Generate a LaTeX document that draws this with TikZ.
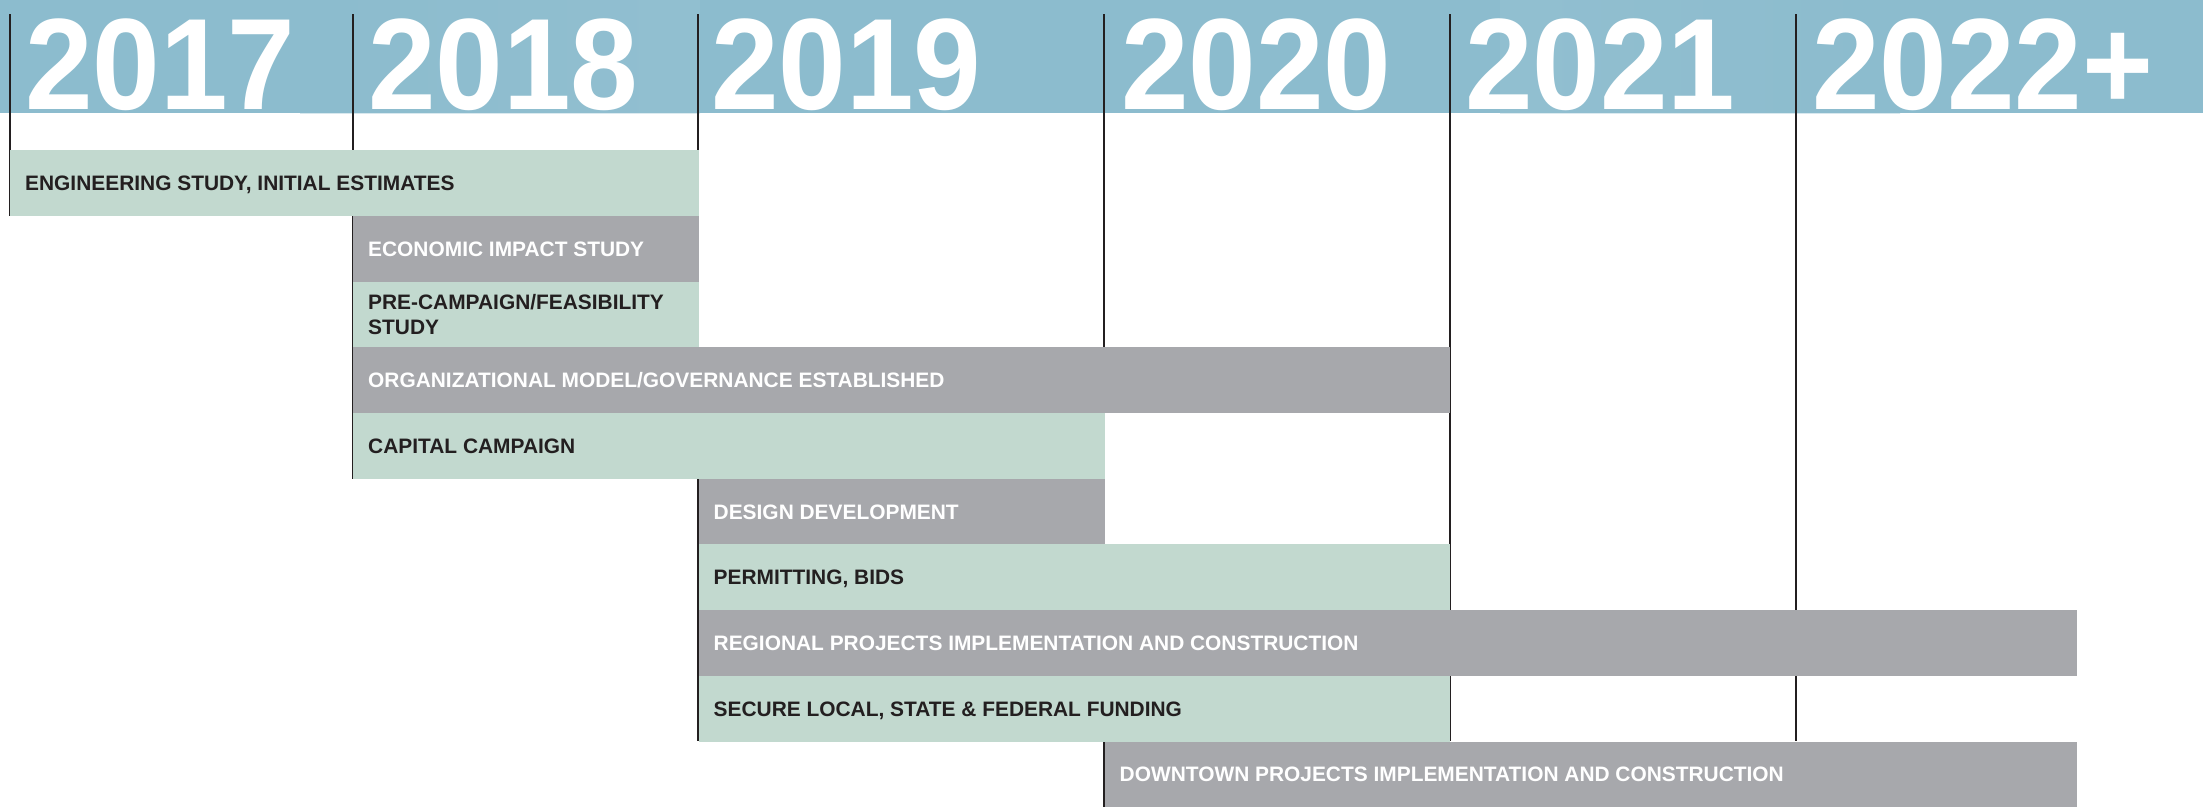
\documentclass[tikz,border=0pt]{standalone}
\usepackage{graphicx}
\usepackage{fontspec}
\setmainfont{Liberation Sans}
\definecolor{hdr}{HTML}{8CBCCE}
\definecolor{barg}{HTML}{C2D9CF}
\definecolor{bargrey}{HTML}{A7A8AC}
\definecolor{ink}{HTML}{231F20}
\definecolor{vline}{HTML}{231F20}
\tikzset{
  yearlabel/.style={anchor=base west, inner sep=0pt, text=white,
    font=\fontsize{130}{130}\selectfont\bfseries},
  yearline/.style={draw=vline, line width=2pt},
  greenbar/.style={fill=barg, draw=none, anchor=north west, inner sep=0pt,
    minimum height=65.7pt},
  greybar/.style={fill=bargrey, draw=none, anchor=north west, inner sep=0pt,
    minimum height=65.7pt},
  darktext/.style={anchor=base west, inner sep=0pt, text=ink,
    font=\fontsize{20.9}{25.7}\selectfont\bfseries},
  whitetext/.style={anchor=base west, inner sep=0pt, text=white,
    font=\fontsize{20.9}{25.7}\selectfont\bfseries}
}
\begin{document}
\begin{tikzpicture}[x=1pt,y=-1pt]
\useasboundingbox (0,0) rectangle (2203,807);
\clip (0,0) rectangle (2203,807);
% header band
\fill[hdr] (0,0) rectangle (2203,113);
\shade[left color=hdr, right color=hdr!85!white, opacity=0.35] (300,0) rectangle (700,113);
\shade[left color=hdr!85!white, right color=hdr, opacity=0.35] (1500,0) rectangle (1900,113);
% year column lines
\coordinate (l17t) at (9.8,14);   \coordinate (l17b) at (9.8,215.7);
\coordinate (l18t) at (352.6,14); \coordinate (l18b) at (352.6,478.5);
\coordinate (l19t) at (698.3,14); \coordinate (l19b) at (698.3,741.3);
\coordinate (l20t) at (1104.3,14);\coordinate (l20b) at (1104.3,807);
\coordinate (l21t) at (1449.9,14);\coordinate (l21b) at (1449.9,741.3);
\coordinate (l22t) at (1795.5,14);\coordinate (l22b) at (1795.5,741.3);
\draw[yearline] (l17t) -- (l17b);
\draw[yearline] (l18t) -- (l18b);
\draw[yearline] (l19t) -- (l19b);
\draw[yearline] (l20t) -- (l20b);
\draw[yearline] (l21t) -- (l21b);
\draw[yearline] (l22t) -- (l22b);
% year labels
\node[yearlabel] (y17) at (25,109) {\scalebox{0.935}[1]{2017}};
\node[yearlabel] (y18) at (368,109) {\scalebox{0.935}[1]{2018}};
\node[yearlabel] (y19) at (711,109) {\scalebox{0.935}[1]{2019}};
\node[yearlabel] (y20) at (1121,109) {\scalebox{0.935}[1]{2020}};
\node[yearlabel] (y21) at (1465,109) {\scalebox{0.935}[1]{2021}};
\node[yearlabel] (y22) at (1812,109) {\scalebox{0.935}[1]{2022+}};
% bars
\node[greenbar, minimum width=688.5pt] (b1) at (9.8,150) {};
\node[greybar, minimum width=345.7pt] (b2) at (352.6,215.7) {};
\node[greenbar, minimum width=345.7pt] (b3) at (352.6,281.4) {};
\node[greybar, minimum width=1097.3pt] (b4) at (352.6,347.1) {};
\node[greenbar, minimum width=751.7pt] (b5) at (352.6,412.8) {};
\node[greybar, minimum width=406pt] (b6) at (698.3,478.5) {};
\node[greenbar, minimum width=751.6pt] (b7) at (698.3,544.2) {};
\node[greybar, minimum width=1378.3pt] (b8) at (698.3,609.9) {};
\node[greenbar, minimum width=751.6pt] (b9) at (698.3,675.6) {};
\node[greybar, minimum width=972.3pt] (b10) at (1104.3,741.3) {};
% bar texts
\node[darktext] (t1) at (25,190.5) {ENGINEERING STUDY, INITIAL ESTIMATES};
\node[whitetext] (t2) at (368,256.2) {ECONOMIC IMPACT STUDY};
\node[darktext, anchor=west, align=left] (t3) at ([xshift=15.4pt]b3.west) {PRE-CAMPAIGN/FEASIBILITY\\STUDY};
\node[whitetext] (t4) at (368,387.6) {ORGANIZATIONAL MODEL/GOVERNANCE ESTABLISHED};
\node[darktext] (t5) at (368,453.3) {CAPITAL CAMPAIGN};
\node[whitetext] (t6) at (713.5,519) {DESIGN DEVELOPMENT};
\node[darktext] (t7) at (713.5,584.7) {PERMITTING, BIDS};
\node[whitetext] (t8) at (713.5,650.4) {REGIONAL PROJECTS IMPLEMENTATION AND CONSTRUCTION};
\node[darktext] (t9) at (713.5,716.1) {SECURE LOCAL, STATE \& FEDERAL FUNDING};
\node[whitetext] (t10) at (1119.5,781.8) {DOWNTOWN PROJECTS IMPLEMENTATION AND CONSTRUCTION};
\end{tikzpicture}
\end{document}
